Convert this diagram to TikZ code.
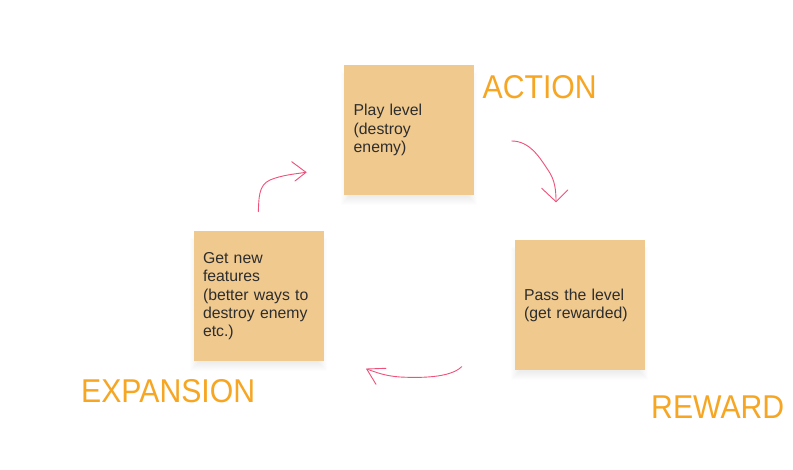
\documentclass[tikz,border=0pt]{standalone}
\usepackage{fontspec}
\setmainfont{Liberation Sans}
\newfontfamily\labelfont[FakeStretch=0.915]{Liberation Sans}
\usetikzlibrary{calc,backgrounds}
\definecolor{sticky}{RGB}{240,201,142}
\definecolor{lblorange}{RGB}{246,166,35}
\definecolor{inkpink}{RGB}{238,82,122}
\definecolor{txtgray}{RGB}{45,45,45}
\tikzset{
  sticky/.style={fill=sticky, draw=none, minimum width=130pt, minimum height=130pt,
    inner xsep=9.5pt, inner ysep=0pt, text width=111pt, align=left, anchor=north west,
    text=txtgray, font=\fontsize{15.8}{18.3}\selectfont},
  softshadow/.style={fill=black, fill opacity=0.009, draw=none},
  phase/.style={text=lblorange, font=\labelfont\fontsize{33}{40}\selectfont, inner sep=0pt, anchor=base west},
  ink/.style={draw=inkpink, line width=0.9pt, line cap=round, line join=round}
}
\begin{document}
\begin{tikzpicture}[x=1pt,y=-1pt]
\useasboundingbox (0,0) rectangle (793,470);
\node[sticky] (play) at (344,65) {Play level\\(destroy\\enemy)};
\node[sticky] (feat) at (193.3,231) {Get new\\features\\(better ways to\\destroy enemy\\etc.)};
\node[sticky] (pass) at (514.3,240) {Pass the level\\(get rewarded)};
\begin{scope}[on background layer]
  \fill[white] (0,0) rectangle (793,470);
  \foreach \n in {play,feat,pass}{
    \foreach \r in {1,...,9}{
      \fill[softshadow] ($(\n.north west)+(6-\r,16-\r)$) rectangle ($(\n.south east)+(\r-6,\r+1)$);
    }
  }
\end{scope}
\node[phase] (action) at (482.5,98.3) {ACTION};
\node[phase] (expansion) at (81,402.3) {EXPANSION};
\node[phase] (reward) at (651,418.3) {REWARD};
% arrow expansion -> action
\coordinate (a1s) at (258.3,211.7);
\coordinate (a1t) at (306,172.3);
\coordinate (a1h1) at (291.7,161.7);
\coordinate (a1h2) at (295,181);
\draw[ink] (a1s) .. controls (259,200) and (258,185) .. (270,180) .. controls (282,175) and (295,174) .. (a1t);
\draw[ink] (a1h1) -- (a1t) -- (a1h2);
% arrow action -> reward
\coordinate (a2s) at (511.7,141);
\coordinate (a2t) at (556,201.7);
\coordinate (a2h1) at (541.7,188.3);
\coordinate (a2h2) at (567.7,190);
\draw[ink] (a2s) .. controls (530,141) and (540,158) .. (548,170) .. controls (555,180) and (556,190) .. (a2t);
\draw[ink] (a2h1) -- (a2t) -- (a2h2);
% arrow reward -> expansion
\coordinate (a3s) at (461.7,366.7);
\coordinate (a3t) at (366.7,369);
\coordinate (a3h1) at (386,368.3);
\coordinate (a3h2) at (376,384.3);
\draw[ink] (a3s) .. controls (450,378) and (420,378) .. (400,377) .. controls (385,376) and (375,372) .. (a3t);
\draw[ink] (a3h1) -- (a3t) -- (a3h2);
\end{tikzpicture}
\end{document}
